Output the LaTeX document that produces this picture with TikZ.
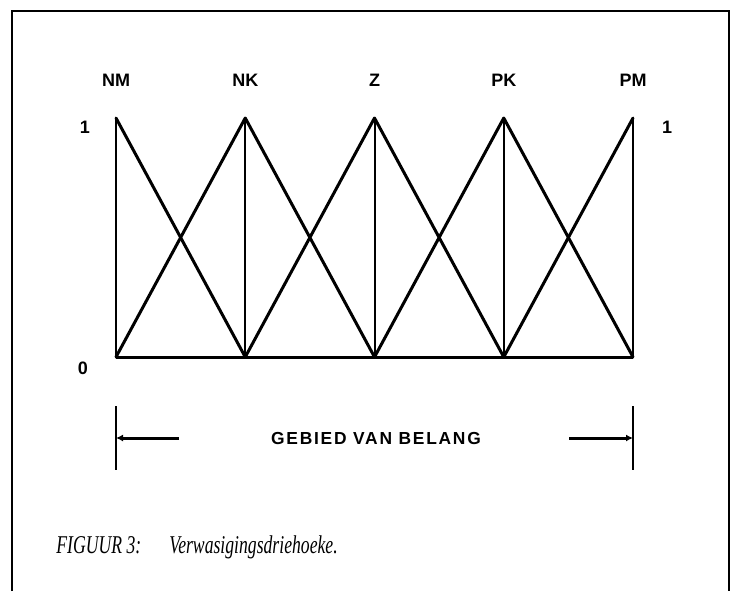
\documentclass[tikz,border=0pt]{standalone}
\usepackage{fontspec}
\setmainfont{Liberation Serif}
\setsansfont{Liberation Sans}
\newfontfamily\capfont{Liberation Serif}[FakeStretch=0.69]
\usetikzlibrary{arrows.meta, positioning}

\begin{document}
\begin{tikzpicture}[x=0.5pt, y=-0.5pt,
    lbl/.style={font=\sffamily\bfseries\fontsize{9}{10}\selectfont, inner sep=0pt},
    post/.style={line width=1pt},
    tri/.style={line width=1.5pt, line cap=round},
    spanarrow/.style={line width=1.5pt, -{Latex[length=3.5pt, width=3.5pt]}}
]
    \useasboundingbox (0,0) rectangle (731,591);

    % Frame, open at the bottom
    \draw[line width=1.1pt] (12,591) -- (12,11) -- (729,11) -- (729,591);

    % Peaks, feet and their labels
    \foreach \n/\x in {NM/116, NK/245.25, Z/374.5, PK/503.75, PM/633} {
        \coordinate (\n-t) at (\x,118);
        \coordinate (\n-b) at (\x,357);
        \draw[post] (\n-b) -- (\n-t);
        \node[lbl] (\n) at (\x,80) {\n};
    }

    % Triangles
    \foreach \a/\b in {NM/NK, NK/Z, Z/PK, PK/PM} {
        \draw[tri] (\a-t) -- (\b-b);
        \draw[tri] (\a-b) -- (\b-t);
    }
    \draw[line width=1.5pt] (NM-b) -- (PM-b);

    % Axis values
    \node[lbl] (one-l) at (85,127) {1};
    \node[lbl] (one-r) at (667,127) {1};
    \node[lbl] (zero) at (83,368) {0};

    % Range of interest
    \coordinate (lo-top) at (116,406);
    \coordinate (lo-bot) at (116,470);
    \coordinate (lo-tip) at (116,438);
    \coordinate (lo-end) at (179,438);
    \coordinate (hi-top) at (633,406);
    \coordinate (hi-bot) at (633,470);
    \coordinate (hi-tip) at (633,438);
    \coordinate (hi-end) at (569,438);
    \draw[post] (lo-top) -- (lo-bot);
    \draw[post] (hi-top) -- (hi-bot);
    \draw[spanarrow] (lo-end) -- (lo-tip);
    \draw[spanarrow] (hi-end) -- (hi-tip);
    \node[lbl, font=\sffamily\bfseries\fontsize{8.7}{10}\selectfont\addfontfeature{LetterSpace=10}] (gvb) at (376,438) {GEBIED VAN BELANG};

    % Caption
    \node[anchor=base west, inner sep=0pt, font=\capfont\itshape\fontsize{12.8}{14}\selectfont] (cap) at (56,553) {FIGUUR 3:\hspace{1.1em}Verwasigingsdriehoeke.};

\end{tikzpicture}
\end{document}
